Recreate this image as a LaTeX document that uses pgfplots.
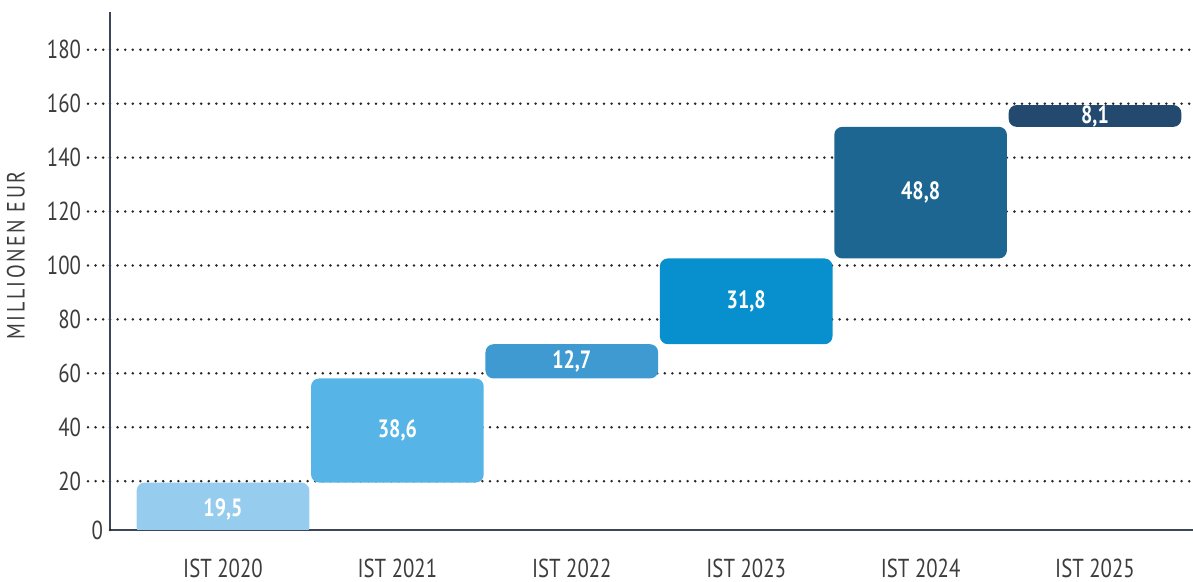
\documentclass[border=0pt]{standalone}
\usepackage{pgfplots}
\pgfplotsset{compat=1.18}
\usepackage{pgfplotstable}
\usepackage{fontspec}
\setmainfont{PT Sans}[FakeStretch=0.8]
\newfontfamily\ylabfont{PT Sans}[FakeStretch=0.8, LetterSpace=10]

\definecolor{c1}{RGB}{150,204,238}
\definecolor{c2}{RGB}{86,181,230}
\definecolor{c3}{RGB}{62,154,208}
\definecolor{c4}{RGB}{8,144,206}
\definecolor{c5}{RGB}{29,102,145}
\definecolor{c6}{RGB}{35,74,110}
\definecolor{axisc}{RGB}{59,70,88}
\definecolor{tickc}{RGB}{60,60,60}
\definecolor{dotc}{RGB}{40,40,40}

% waterfall: base = cumulative start, d1..d6 = increments
\pgfplotstableread{
x base d1 d2 d3 d4 d5 d6
0 0 19.5 0 0 0 0 0
1 19.5 0 38.6 0 0 0 0
2 58.1 0 0 12.7 0 0 0
3 70.8 0 0 0 31.8 0 0
4 102.6 0 0 0 0 48.8 0
5 151.4 0 0 0 0 0 8.1
}\data

\tikzset{dotline/.style={draw=dotc, line width=1.4pt, line cap=round, dash pattern=on 0pt off 3.8pt},
  lbl/.style={text=white, font=\bfseries\fontsize{12.5}{14}\selectfont}}

\begin{document}
\begin{tikzpicture}
\begin{axis}[
  scale only axis, width=541.5pt, height=259pt,
  xmin=-0.648, xmax=5.562, ymin=1.9, ymax=194,
  axis lines=left,
  axis line style={-, draw=axisc, line width=1.3pt},
  ybar stacked, bar width=0.99,
  ytick={20,40,...,180},
  extra y ticks={1.9}, extra y tick labels={0},
  extra y tick style={major tick length=0pt, grid=none},
  ymajorgrids, grid style={dotline},
  tick align=outside, major tick length=11pt,
  ytick style={dotline},
  xtick={0,...,5},
  xticklabels={IST 2020,IST 2021,IST 2022,IST 2023,IST 2024,IST 2025},
  xtick style={draw=none},
  /pgf/number format/assume math mode=true,
  tick label style={font=\fontsize{13}{15}\selectfont, text=tickc},
  ylabel={MILLIONEN EUR},
  every axis y label/.style={at={(rel axis cs:0,0.53)}, xshift=-47pt, rotate=90, anchor=center, font=\ylabfont\fontsize{12.5}{14}\selectfont, text=tickc},
  every axis plot/.append style={draw=none, rounded corners=4pt},
]
\addplot[fill=none, draw=none] table[x=x, y=base] {\data};
\addplot[fill=c1] table[x=x, y=d1] {\data};
\addplot[fill=c2] table[x=x, y=d2] {\data};
\addplot[fill=c3] table[x=x, y=d3] {\data};
\addplot[fill=c4] table[x=x, y=d4] {\data};
\addplot[fill=c5] table[x=x, y=d5] {\data};
\addplot[fill=c6] table[x=x, y=d6] {\data};
\coordinate (A) at (rel axis cs:0,0);
\coordinate (B) at (rel axis cs:1,1);
\coordinate (n1) at (axis cs:0,9.5);
\coordinate (n2) at (axis cs:1,38.8);
\coordinate (n3) at (axis cs:2,64.45);
\coordinate (n4) at (axis cs:3,86.7);
\coordinate (n5) at (axis cs:4,127.0);
\coordinate (n6) at (axis cs:5,155.45);
\end{axis}
\node[lbl] at (n1) {19,5};
\node[lbl] at (n2) {38,6};
\node[lbl] at (n3) {12,7};
\node[lbl] at (n4) {31,8};
\node[lbl] at (n5) {48,8};
\node[lbl] at (n6) {8,1};
\pgfresetboundingbox
\path[use as bounding box] ([xshift=-55pt,yshift=-26pt]A) rectangle ([yshift=6pt]B);
\end{tikzpicture}
\end{document}
